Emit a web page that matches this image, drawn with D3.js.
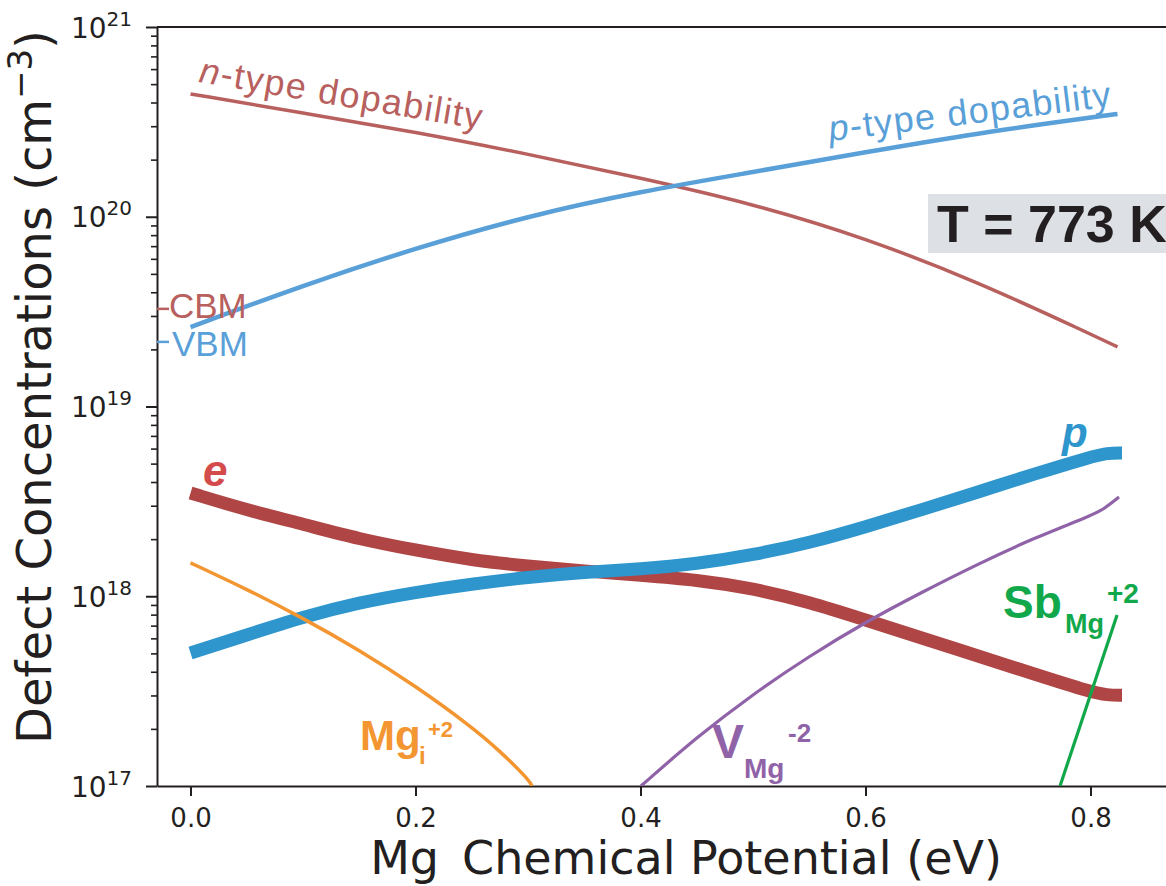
<!DOCTYPE html>
<html>
<head>
<meta charset="utf-8">
<script src="https://cdn.jsdelivr.net/npm/d3@7"></script>
<style>
  body { margin: 0; background: #fff; }
  svg { display: block; }
</style>
</head>
<body>
<div id="chart"></div>
<script>
// Mg chemical potential grids (eV) and concentrations (cm^-3)
var muDop = [0, 0.1, 0.2, 0.3, 0.4, 0.5, 0.6, 0.7, 0.8, 0.824];
var nTypeDop = [4.44e20, 3.52e20, 2.80e20, 2.14e20, 1.60e20, 1.17e20, 7.73e19, 4.53e19, 2.41e19, 2.06e19];
var pTypeDop = [2.62e19, 4.35e19, 6.84e19, 1.01e20, 1.36e20, 1.72e20, 2.19e20, 2.76e20, 3.33e20, 3.48e20];

var muCarrier = [0, 0.05, 0.1, 0.15, 0.2, 0.25, 0.3, 0.35, 0.4, 0.45, 0.5, 0.55, 0.6, 0.65, 0.7, 0.75, 0.8, 0.815, 0.828];
var electrons = [3.50e18, 2.85e18, 2.40e18, 2.00e18, 1.75e18, 1.55e18, 1.44e18, 1.36e18, 1.29e18, 1.22e18,
                 1.10e18, 9.33e17, 7.50e17, 6.03e17, 4.84e17, 3.89e17, 3.13e17, 3.01e17, 3.01e17];
var holes     = [5.02e17, 6.25e17, 7.78e17, 9.27e17, 1.05e18, 1.16e18, 1.26e18, 1.34e18, 1.39e18, 1.48e18,
                 1.65e18, 1.91e18, 2.32e18, 2.86e18, 3.54e18, 4.41e18, 5.42e18, 5.69e18, 5.69e18];

var muMgi = [0, 0.05, 0.1, 0.15, 0.2, 0.25, 0.275, 0.3, 0.3036];
var mgInterstitial = [1.50e18, 1.09e18, 7.67e17, 5.21e17, 3.37e17, 2.05e17, 1.53e17, 1.09e17, 1.0e17];

var muVMg = [0.4004, 0.45, 0.5, 0.55, 0.6, 0.65, 0.7, 0.75, 0.8, 0.812, 0.8253];
var mgVacancy = [1.0e17, 1.81e17, 3.05e17, 4.84e17, 7.31e17, 1.05e18, 1.48e18, 2.03e18, 2.65e18, 2.88e18, 3.33e18];

var muSbMg = [0.7729, 0.8236];
var sbAntisite = [1.0e17, 7.96e17];

var bandEdges = [{ name: "CBM", value: 3.27e19 }, { name: "VBM", value: 2.19e19 }];

var xTicks = [0, 0.2, 0.4, 0.6, 0.8];
var yExponents = [17, 18, 19, 20, 21];

var width = 1166, height = 886;
var svg = d3.select("#chart").append("svg")
  .attr("width", width)
  .attr("height", height);

var x = d3.scaleLinear().domain([-0.0298, 0.8671]).range([157, 1166]);
var y = d3.scaleLog().domain([1e17, 1e21]).range([786, 27]);

var axisColor = "#231f20";
var axisFont = "'DejaVu Sans', sans-serif";
var labelFont = "'Liberation Sans', Arial, Helvetica, sans-serif";

svg.append("clipPath").attr("id", "plotclip")
  .append("rect").attr("x", 157).attr("y", 27).attr("width", 1009).attr("height", 759);

// top spine
svg.append("line")
  .attr("x1", 157).attr("x2", 1166).attr("y1", 27).attr("y2", 27)
  .attr("stroke", axisColor).attr("stroke-width", 2);

// x axis
var xAxis = svg.append("g")
  .attr("transform", "translate(0,786)")
  .call(d3.axisBottom(x).tickValues(xTicks).tickSize(10).tickSizeOuter(0).tickFormat(""));
xAxis.selectAll("path, line").attr("stroke", axisColor).attr("stroke-width", 2);
xAxis.selectAll(".tick").append("text")
  .attr("y", 41)
  .attr("fill", axisColor)
  .attr("text-anchor", "middle")
  .style("font-family", axisFont)
  .style("font-size", "26px")
  .text(function(d) { return d3.format(".1f")(d); });

// y axis, major + minor log ticks
var majorTicks = yExponents.map(function(e) { return Math.pow(10, e); });
var minorTicks = [];
yExponents.slice(0, -1).forEach(function(e) {
  for (var k = 2; k <= 9; k++) minorTicks.push(k * Math.pow(10, e));
});

var yAxis = svg.append("g")
  .attr("transform", "translate(157,0)")
  .call(d3.axisLeft(y).tickValues(majorTicks).tickSize(11).tickSizeOuter(0).tickFormat(""));
yAxis.selectAll("path, line").attr("stroke", axisColor).attr("stroke-width", 2);

var yMinor = svg.append("g")
  .attr("transform", "translate(157,0)")
  .call(d3.axisLeft(y).tickValues(minorTicks).tickSize(6).tickFormat(""));
yMinor.select(".domain").remove();
yMinor.selectAll("line").attr("stroke", axisColor).attr("stroke-width", 1.6);

var yLab = yAxis.selectAll(".tick").append("text")
  .attr("x", -25)
  .attr("y", 10)
  .attr("fill", axisColor)
  .attr("text-anchor", "end")
  .style("font-family", axisFont);
yLab.append("tspan").style("font-size", "28px").text("10");
yLab.append("tspan").style("font-size", "20px").attr("dy", -12)
  .text(function(d) { return Math.round(Math.log10(d)); });

// axis titles
svg.append("text")
  .attr("transform", "translate(51,387) rotate(-90)")
  .attr("text-anchor", "middle")
  .attr("fill", axisColor)
  .style("font-family", axisFont)
  .style("font-size", "48px")
  .call(function(t) {
    t.append("tspan").text("Defect Concentrations (cm");
    t.append("tspan").style("font-size", "34px").attr("dy", -19).text("\u22123");
    t.append("tspan").attr("dy", 19).text(")");
  });

svg.append("text")
  .attr("x", 686).attr("y", 874)
  .attr("text-anchor", "middle")
  .attr("fill", axisColor)
  .style("font-family", axisFont)
  .style("font-size", "46px")
  .text("Mg\u2002Chemical Potential (eV)");

// curves
var plot = svg.append("g").attr("clip-path", "url(#plotclip)");

function zipSeries(mu, vals) {
  return mu.map(function(m, i) { return [m, vals[i]]; });
}

var line = d3.line()
  .x(function(d) { return x(d[0]); })
  .y(function(d) { return y(d[1]); })
  .curve(d3.curveBasis);

var series = [
  { data: zipSeries(muDop, nTypeDop), color: "#b8605e", w: 3.5 },
  { data: zipSeries(muDop, pTypeDop), color: "#5aa0d8", w: 4.5 },
  { data: zipSeries(muCarrier, electrons), color: "#b04545", w: 13 },
  { data: zipSeries(muCarrier, holes), color: "#2e96cc", w: 13 },
  { data: zipSeries(muMgi, mgInterstitial), color: "#f39530", w: 3.5 },
  { data: zipSeries(muVMg, mgVacancy), color: "#9063a8", w: 3.2 },
  { data: zipSeries(muSbMg, sbAntisite), color: "#10a84b", w: 3.2 }
];

plot.selectAll(".curve")
  .data(series)
  .enter()
  .append("path")
  .attr("class", "curve")
  .attr("d", function(d) { return line(d.data); })
  .attr("fill", "none")
  .attr("stroke", function(d) { return d.color; })
  .attr("stroke-width", function(d) { return d.w; })
  .attr("stroke-linecap", "butt");

// band edge markers on the y axis
var edgeColors = { CBM: "#b8605e", VBM: "#5aa0d8" };
var edges = svg.selectAll(".edge").data(bandEdges).enter().append("g").attr("class", "edge");
edges.append("line")
  .attr("x1", 157).attr("x2", 169)
  .attr("y1", function(d) { return y(d.value); })
  .attr("y2", function(d) { return y(d.value); })
  .attr("stroke", function(d) { return edgeColors[d.name]; })
  .attr("stroke-width", 2.5);
edges.append("text")
  .attr("x", function(d) { return d.name === "CBM" ? 169 : 172; })
  .attr("y", function(d) { return y(d.value) + (d.name === "CBM" ? 9 : 14); })
  .attr("fill", function(d) { return edgeColors[d.name]; })
  .style("font-family", labelFont)
  .style("font-size", "35px")
  .text(function(d) { return d.name; });

// dopability labels
var nt = svg.append("text")
  .attr("transform", "translate(198,82) rotate(9.5)")
  .attr("fill", "#b8605e")
  .style("font-family", labelFont)
  .style("font-size", "36px")
  .attr("textLength", 286).attr("lengthAdjust", "spacing");
nt.append("tspan").style("font-style", "italic").text("n");
nt.append("tspan").text("-type dopability");

var pt = svg.append("text")
  .attr("transform", "translate(830,141) rotate(-7)")
  .attr("fill", "#5aa0d8")
  .style("font-family", labelFont)
  .style("font-size", "36px")
  .attr("textLength", 284).attr("lengthAdjust", "spacing");
pt.append("tspan").style("font-style", "italic").text("p");
pt.append("tspan").text("-type dopability");

// temperature box
svg.append("rect")
  .attr("x", 928).attr("y", 194).attr("width", 238).attr("height", 59)
  .attr("fill", "#dde0e4");
svg.append("text")
  .attr("x", 937).attr("y", 242)
  .attr("fill", axisColor)
  .style("font-family", labelFont)
  .style("font-weight", "bold")
  .style("font-size", "52px")
  .text("T = 773 K");

// carrier labels
svg.append("text")
  .attr("x", 203).attr("y", 486)
  .attr("fill", "#d44b4b")
  .style("font-family", labelFont)
  .style("font-weight", "bold").style("font-style", "italic")
  .style("font-size", "44px")
  .text("e");
svg.append("text")
  .attr("x", 1062).attr("y", 447)
  .attr("fill", "#2e96cc")
  .style("font-family", labelFont)
  .style("font-weight", "bold").style("font-style", "italic")
  .style("font-size", "42px")
  .text("p");

// defect labels: [text, x, y, size]
function defectLabel(parts, color) {
  parts.forEach(function(p) {
    svg.append("text")
      .attr("x", p[1]).attr("y", p[2])
      .attr("fill", color)
      .style("font-family", labelFont)
      .style("font-weight", "bold")
      .style("font-size", p[3] + "px")
      .text(p[0]);
  });
}
defectLabel([["Mg", 360, 750, 42], ["i", 419, 764, 24], ["+2", 428, 737, 22]], "#f39530");
defectLabel([["V", 712, 758, 48], ["Mg", 744, 778, 28], ["-2", 788, 742, 26]], "#9063a8");
defectLabel([["Sb", 1003, 618, 46], ["Mg", 1065, 633, 27], ["+2", 1107, 603, 28]], "#10a84b");
</script>
</body>
</html>
